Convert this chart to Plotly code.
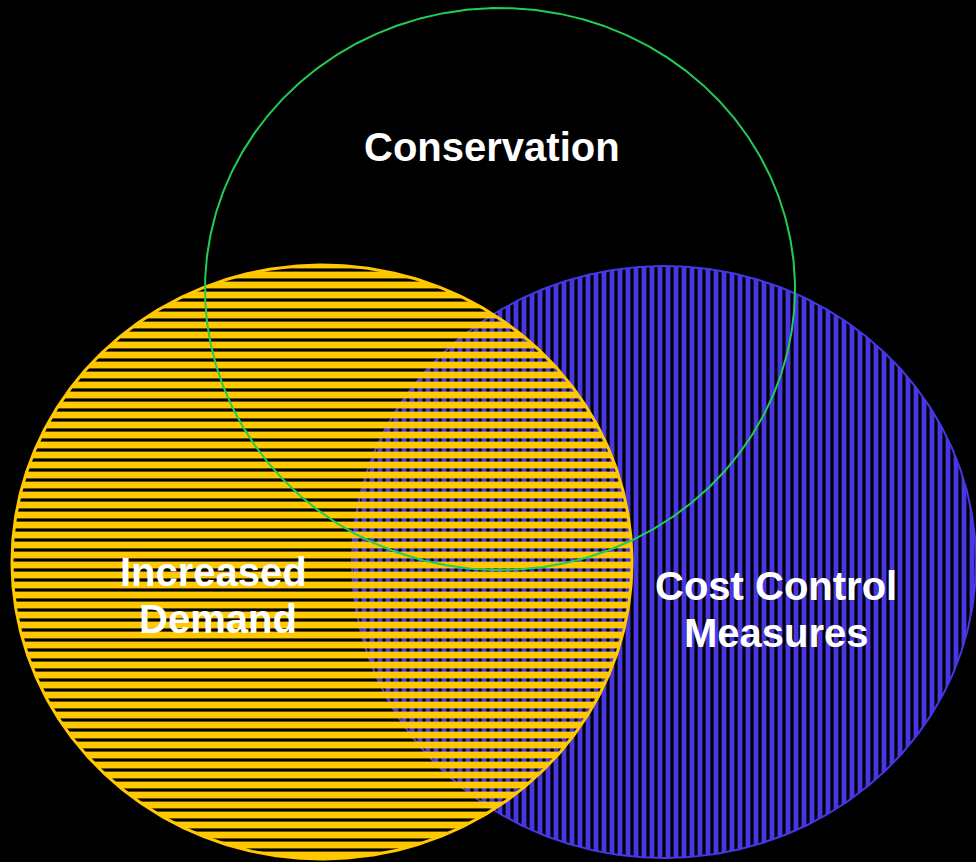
import numpy as np
import plotly.graph_objects as go

# Venn sets: centre (x, y in px space), radii (rx, ry)
center_x = [664, 322, 500]
center_y = [562, 562, 289]
radius_x = [312, 310, 295]
radius_y = [296, 297, 281]
line_colors = ["#4736E4", "#FFC800", "#22CC55"]
line_widths = [2, 3, 2]
pattern_shapes = ["|", "-", ""]
pattern_sizes = [8, 10, 8]
pattern_solidity = [0.6, 0.68, 0.5]

# labels, one entry per text line
label_text = ["Conservation", "Increased", "Demand", "Cost Control", "Measures"]
label_x = [492, 213, 218, 776, 776]
label_y = [147, 572, 619, 586, 633]

fig = go.Figure()
theta = np.linspace(0, 2 * np.pi, 721)
for i in range(3):
    xs = center_x[i] + radius_x[i] * np.cos(theta)
    ys = center_y[i] + radius_y[i] * np.sin(theta)
    kw = {}
    if pattern_shapes[i]:
        kw = dict(fill="toself", fillcolor="rgba(0,0,0,0)",
                  fillpattern=dict(shape=pattern_shapes[i], fgcolor=line_colors[i],
                                   fgopacity=1, bgcolor="rgba(0,0,0,0)",
                                   size=pattern_sizes[i], solidity=pattern_solidity[i]))
    fig.add_trace(go.Scatter(x=xs, y=ys, mode="lines",
                             line=dict(color=line_colors[i], width=line_widths[i]),
                             hoverinfo="skip", showlegend=False, **kw))

for t, x, y in zip(label_text, label_x, label_y):
    fig.add_annotation(x=x, y=y, text="<b>" + t + "</b>",
                       showarrow=False, xref="x", yref="y",
                       font=dict(family="Arial, Liberation Sans, sans-serif", size=40, color="white"))

fig.update_layout(
    width=976, height=862,
    margin=dict(l=0, r=0, t=0, b=0),
    paper_bgcolor="black", plot_bgcolor="black",
    xaxis=dict(range=[0, 976], visible=False, fixedrange=True),
    yaxis=dict(range=[862, 0], visible=False, fixedrange=True),
    showlegend=False,
)
fig.write_html("out.html",
               config={"displayModeBar": False},
               post_script="document.body.style.margin='0';document.body.style.background='black';")
